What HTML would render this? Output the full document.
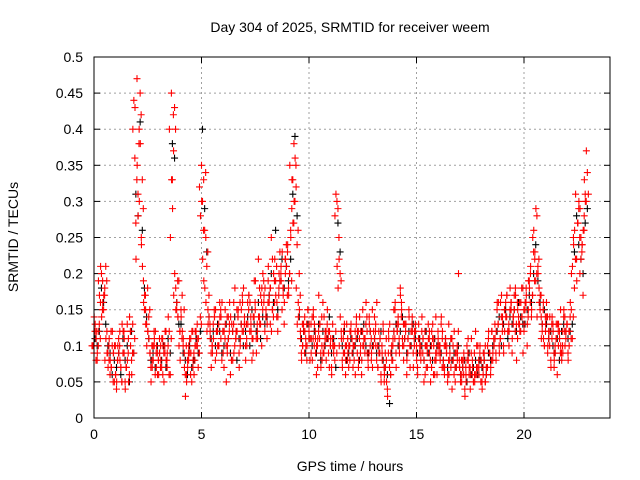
<!DOCTYPE html>
<html><head><meta charset="utf-8"><style>
body{margin:0;background:#fff}
svg{display:block;font-family:"Liberation Sans",sans-serif}
</style></head><body>
<svg id="chart" width="640" height="480" viewBox="0 0 640 480">
<rect width="640" height="480" fill="#fff"/>
<text x="350" y="32" font-size="14" text-anchor="middle">Day 304 of 2025, SRMTID for receiver weem</text>
<text x="350" y="471" font-size="14" text-anchor="middle">GPS time / hours</text>
<text x="0" y="0" font-size="14" text-anchor="middle" transform="translate(18,237) rotate(-90)">SRMTID / TECUs</text>
<g id="grid"></g>
<g id="ticks"></g>
<g id="blackPts"></g>
<g id="redPts"></g>
<rect x="94" y="57" width="516" height="361" fill="none" stroke="#000" stroke-width="1"/>
</svg>
<script>
const xTicks=[0,5,10,15,20];
const yTicks=[0,0.05,0.1,0.15,0.2,0.25,0.3,0.35,0.4,0.45,0.5];
const yTickLabels=["0","0.05","0.1","0.15","0.2","0.25","0.3","0.35","0.4","0.45","0.5"];
const times=[0,0.1,0.2,0.3,0.4,0.5,0.6,0.7,0.8,0.9,1,1.1,1.2,1.3,1.4,1.5,1.6,1.7,1.8,1.9,2,2.1,2.2,2.3,2.4,2.5,2.6,2.7,2.8,2.9,3,3.1,3.2,3.3,3.4,3.5,3.6,3.7,3.8,3.9,4,4.1,4.2,4.3,4.4,4.5,4.6,4.7,4.8,4.9,5,5.1,5.2,5.3,5.4,5.5,5.6,5.7,5.8,5.9,6,6.1,6.2,6.3,6.4,6.5,6.6,6.7,6.8,6.9,7,7.1,7.2,7.3,7.4,7.5,7.6,7.7,7.8,7.9,8,8.1,8.2,8.3,8.4,8.5,8.6,8.7,8.8,8.9,9,9.1,9.2,9.3,9.4,9.5,9.6,9.7,9.8,9.9,10,10.1,10.2,10.3,10.4,10.5,10.6,10.7,10.8,10.9,11,11.1,11.2,11.3,11.4,11.5,11.6,11.7,11.8,11.9,12,12.1,12.2,12.3,12.4,12.5,12.6,12.7,12.8,12.9,13,13.1,13.2,13.3,13.4,13.5,13.6,13.7,13.8,13.9,14,14.1,14.2,14.3,14.4,14.5,14.6,14.7,14.8,14.9,15,15.1,15.2,15.3,15.4,15.5,15.6,15.7,15.8,15.9,16,16.1,16.2,16.3,16.4,16.5,16.6,16.7,16.8,16.9,17,17.1,17.2,17.3,17.4,17.5,17.6,17.7,17.8,17.9,18,18.1,18.2,18.3,18.4,18.5,18.6,18.7,18.8,18.9,19,19.1,19.2,19.3,19.4,19.5,19.6,19.7,19.8,19.9,20,20.1,20.2,20.3,20.4,20.5,20.6,20.7,20.8,20.9,21,21.1,21.2,21.3,21.4,21.5,21.6,21.7,21.8,21.9,22,22.1,22.2,22.3,22.4,22.5,22.6,22.7,22.8,22.9];
const redA=[.09,.11,.10,.16,.19,.18,.12,.08,.07,.09,.06,.08,.12,.05,.09,.07,.11,.10,.13,.36,.47,.40,.25,.19,.15,.12,.09,.08,.10,.07,.08,.10,.06,.09,.07,.12,.45,.37,.18,.14,.12,.17,.09,.06,.08,.11,.07,.10,.13,.09,.35,.33,.25,.15,.12,.10,.14,.09,.13,.11,.12,.15,.09,.13,.08,.16,.11,.14,.10,.17,.14,.11,.17,.13,.09,.15,.12,.18,.10,.16,.15,.19,.13,.22,.16,.14,.18,.21,.17,.20,.23,.20,.29,.38,.32,.16,.12,.10,.14,.08,.12,.09,.15,.11,.07,.13,.10,.14,.08,.12,.10,.13,.08,.30,.22,.12,.09,.06,.11,.08,.11,.08,.13,.07,.10,.15,.09,.12,.14,.08,.10,.13,.07,.11,.09,.05,.08,.12,.06,.10,.15,.12,.10,.16,.08,.13,.11,.07,.14,.10,.10,.13,.08,.11,.06,.09,.12,.07,.10,.14,.12,.08,.11,.06,.09,.13,.07,.10,.05,.08,.07,.05,.09,.06,.11,.04,.08,.06,.10,.07,.08,.06,.10,.07,.09,.12,.10,.08,.13,.11,.14,.12,.17,.10,.15,.13,.18,.11,.16,.14,.12,.18,.15,.20,.17,.22,.28,.18,.14,.16,.12,.09,.14,.11,.07,.13,.10,.15,.12,.14,.13,.10,.15,.25,.31,.27,.20,.24,.28,.37];
const redB=[.12,.08,.13,.20,.15,.21,.09,.06,.10,.05,.04,.11,.07,.09,.05,.13,.06,.08,.09,.27,.31,.45,.33,.15,.13,.14,.07,.10,.06,.09,.11,.07,.09,.12,.10,.06,.33,.43,.15,.19,.15,.10,.06,.08,.11,.05,.09,.12,.07,.14,.30,.26,.21,.17,.09,.13,.08,.12,.16,.08,.07,.10,.14,.06,.12,.10,.15,.09,.13,.12,.10,.16,.12,.08,.14,.11,.22,.13,.15,.12,.11,.16,.25,.14,.19,.12,.23,.15,.13,.24,.18,.26,.33,.30,.24,.20,.09,.13,.11,.15,.08,.14,.10,.06,.12,.09,.16,.11,.13,.07,.07,.09,.12,.29,.20,.08,.13,.10,.07,.12,.07,.12,.09,.11,.06,.10,.13,.08,.10,.15,.14,.08,.12,.06,.13,.09,.04,.07,.10,.15,.09,.14,.18,.11,.13,.06,.15,.12,.09,.13,.07,.09,.12,.05,.10,.13,.08,.11,.06,.09,.09,.13,.07,.10,.05,.08,.11,.06,.09,.12,.05,.08,.04,.10,.06,.09,.05,.12,.07,.09,.05,.09,.07,.11,.06,.08,.13,.15,.10,.14,.10,.16,.12,.15,.09,.17,.13,.14,.12,.18,.15,.10,.19,.14,.23,.19,.21,.15,.12,.10,.16,.12,.08,.13,.10,.06,.12,.09,.14,.11,.09,.14,.11,.18,.22,.29,.25,.17,.31,.34];
const redC=[.10,.13,.09,.17,.14,.17,.11,.07,.08,.12,.10,.05,.09,.07,.12,.04,.08,.14,.06,.44,.22,.28,.38,.21,.17,.10,.11,.05,.08,.12,.06,.09,.11,.05,.08,.14,.25,.29,.20,.16,.10,.14,.11,.03,.07,.09,.12,.06,.10,.11,.28,.22,.18,.12,.14,.07,.11,.15,.10,.14,.16,.12,.05,.11,.14,.08,.18,.12,.07,.15,.18,.08,.13,.16,.11,.19,.09,.14,.17,.20,.18,.13,.17,.12,.20,.17,.14,.19,.23,.16,.21,.17,.25,.27,.36,.13,.15,.08,.12,.10,.15,.11,.08,.13,.10,.17,.07,.09,.12,.15,.12,.06,.10,.31,.18,.14,.07,.09,.13,.10,.13,.10,.06,.12,.14,.08,.11,.16,.07,.12,.07,.11,.16,.09,.05,.12,.07,.03,.13,.08,.12,.07,.13,.17,.10,.11,.08,.14,.12,.07,.12,.06,.10,.14,.08,.07,.11,.05,.13,.08,.06,.10,.14,.08,.11,.06,.09,.04,.12,.07,.20,.06,.07,.03,.08,.07,.11,.05,.06,.10,.10,.04,.08,.06,.12,.07,.09,.11,.16,.09,.17,.09,.14,.12,.18,.11,.15,.08,.13,.16,.09,.16,.13,.18,.15,.26,.29,.20,.17,.13,.10,.14,.11,.07,.12,.09,.13,.11,.08,.15,.12,.08,.16,.21,.26,.19,.30,.22,.26,.30];
const redD=[.10,.14,.12,.19,.21,.16,.08,.09,.11,.07,.09,.06,.10,.08,.13,.11,.07,.05,.12,.40,.43,.35,.30,.24,.16,.13,.12,.09,.07,.11,.10,.06,.08,.10,.12,.09,.40,.33,.17,.15,.14,.08,.12,.07,.05,.10,.09,.08,.12,.10,.32,.30,.19,.16,.13,.11,.09,.14,.12,.10,.14,.09,.13,.10,.16,.13,.09,.12,.15,.11,.16,.13,.10,.17,.12,.14,.19,.11,.13,.18,.17,.14,.21,.18,.15,.22,.16,.20,.19,.18,.22,.24,.35,.33,.30,.18,.14,.11,.10,.12,.10,.13,.11,.14,.09,.11,.13,.08,.10,.11,.09,.11,.10,.28,.21,.10,.11,.12,.08,.09,.12,.09,.10,.14,.08,.12,.10,.11,.09,.13,.09,.12,.10,.07,.11,.08,.06,.05,.11,.09,.11,.16,.12,.09,.15,.10,.13,.11,.10,.12,.12,.08,.11,.09,.11,.10,.07,.09,.12,.11,.08,.11,.09,.12,.07,.10,.06,.11,.08,.09,.09,.07,.06,.08,.05,.08,.06,.07,.05,.06,.06,.08,.09,.05,.10,.09,.12,.10,.12,.16,.16,.13,.15,.17,.12,.16,.14,.17,.15,.12,.14,.13,.17,.19,.21,.25,.23,.14,.16,.11,.11,.13,.10,.12,.14,.08,.11,.13,.10,.09,.10,.13,.12,.20,.24,.22,.27,.29,.24,.33];
const redE=[.08,.12,.11,.15,.17,.19,.10,.12,.05,.10,.08,.10,.05,.12,.07,.09,.12,.09,.11,.33,.38,.42,.29,.17,.18,.15,.10,.12,.09,.08,.07,.11,.10,.08,.06,.11,.42,.40,.19,.12,.11,.15,.10,.09,.06,.12,.08,.11,.09,.13,.26,.34,.23,.13,.10,.15,.12,.10,.15,.12,.11,.14,.12,.08,.13,.11,.14,.16,.12,.13,.13,.15,.14,.11,.16,.13,.14,.16,.19,.14,.16,.18,.15,.19,.21,.17,.20,.18,.22,.17,.20,.19,.27,.35,.26,.17,.13,.09,.13,.11,.13,.11,.12,.10,.11,.14,.09,.12,.11,.10,.11,.10,.09,.25,.19,.11,.10,.08,.10,.11,.10,.11,.12,.09,.12,.11,.14,.09,.11,.10,.12,.10,.09,.10,.07,.11,.09,.06,.08,.11,.13,.11,.14,.13,.12,.09,.10,.13,.11,.09,.11,.10,.09,.12,.10,.11,.10,.06,.09,.10,.10,.07,.10,.09,.08,.11,.08,.07,.10,.08,.08,.06,.07,.09,.07,.06,.09,.07,.08,.05,.07,.05,.07,.09,.08,.11,.09,.13,.11,.12,.15,.14,.13,.16,.14,.12,.16,.13,.18,.15,.16,.14,.16,.17,.19,.20,.22,.17,.15,.14,.14,.10,.13,.09,.11,.12,.09,.10,.12,.13,.12,.11,.14,.22,.27,.25,.23,.26,.30,.31];
const blackK=[.11,.10,.12,.18,.16,.13,.10,.09,.06,.08,.07,.09,.06,.11,.08,.10,.05,.12,.09,.31,.28,.41,.26,.18,.14,.11,.08,.09,.07,.10,.09,.08,.10,.07,.11,.09,.38,.36,.16,.13,.13,.09,.08,.06,.10,.07,.08,.11,.09,.12,.40,.29,.23,.14,.11,.12,.10,.13,.12,.09,.10,.13,.11,.09,.12,.14,.08,.11,.13,.10,.12,.14,.10,.15,.13,.12,.16,.11,.14,.13,.14,.17,.20,.16,.26,.15,.19,.22,.18,.21,.19,.22,.31,.39,.28,.14,.11,.12,.09,.13,.11,.10,.12,.09,.13,.08,.12,.10,.11,.14,.09,.11,.07,.27,.23,.10,.12,.08,.09,.11,.09,.10,.11,.08,.12,.13,.10,.09,.12,.10,.11,.09,.10,.12,.08,.07,.06,.02,.09,.12,.13,.10,.12,.14,.11,.09,.12,.10,.13,.11,.09,.11,.10,.08,.12,.09,.10,.08,.11,.10,.10,.09,.08,.11,.07,.10,.08,.09,.07,.10,.06,.07,.08,.05,.09,.06,.07,.08,.06,.08,.07,.08,.06,.09,.08,.10,.11,.12,.14,.10,.13,.15,.11,.14,.13,.15,.12,.16,.14,.13,.13,.15,.17,.16,.20,.24,.19,.16,.13,.15,.13,.11,.12,.10,.09,.11,.08,.12,.13,.12,.11,.12,.13,.23,.28,.24,.22,.20,.27,.29];

const X0=94,X1=610,Y0=418,Y1=57,XMAX=24,YMAX=0.5;
function xs(t){return X0+(X1-X0)*t/XMAX;}
function ys(v){return Y0-(Y0-Y1)*v/YMAX;}
const NS="http://www.w3.org/2000/svg";
function mk(tag,attrs,parent){const e=document.createElementNS(NS,tag);for(const k in attrs)e.setAttribute(k,attrs[k]);parent.appendChild(e);return e;}
const grid=document.getElementById('grid'),ticks=document.getElementById('ticks');
xTicks.forEach((t,i)=>{
  const x=xs(t);
  if(i>0){const g=mk('line',{x1:x,x2:x,y1:Y1,y2:Y0,stroke:'#a0a0a0','stroke-dasharray':'2,3'},grid);
  
  }
  mk('line',{x1:x,x2:x,y1:Y0,y2:Y0-6,stroke:'#000'},ticks);
  mk('line',{x1:x,x2:x,y1:Y1,y2:Y1+6,stroke:'#000'},ticks);
  const l=mk('text',{x:x,y:Y0+21,'font-size':14,'text-anchor':'middle'},ticks);
  l.textContent=String(t);
  
  
});
yTicks.forEach((v,i)=>{
  const y=ys(v);
  if(i>0&&i<yTicks.length-1){const g=mk('line',{x1:X0,x2:X1,y1:y,y2:y,stroke:'#a0a0a0','stroke-dasharray':'2,3'},grid);
  
  }
  mk('line',{x1:X0,x2:X0+6,y1:y,y2:y,stroke:'#000'},ticks);
  mk('line',{x1:X1,x2:X1-6,y1:y,y2:y,stroke:'#000'},ticks);
  const l=mk('text',{x:X0-11,y:y+5,'font-size':14,'text-anchor':'end'},ticks);
  l.textContent=yTickLabels[i];
  
  
});
function plus(parent,t,v,col,off){
  const x=xs(t)+off,y=ys(v);
  const p=mk('path',{d:`M${x-3.5},${y}h7M${x},${y-3.5}v7`,stroke:col,'stroke-width':1.1,fill:'none'},parent);
  
  
}
const bg=document.getElementById('blackPts'),rg=document.getElementById('redPts');
times.forEach((t,i)=>{plus(bg,t,blackK[i],'#000',1);});
times.forEach((t,i)=>{
  plus(rg,t,redA[i],'#f00',0);
  plus(rg,t,redB[i],'#f00',1);
  plus(rg,t,redC[i],'#f00',-1);
  plus(rg,t,redD[i],'#f00',-2);
  plus(rg,t,redE[i],'#f00',2);
});
</script>
</body></html>
